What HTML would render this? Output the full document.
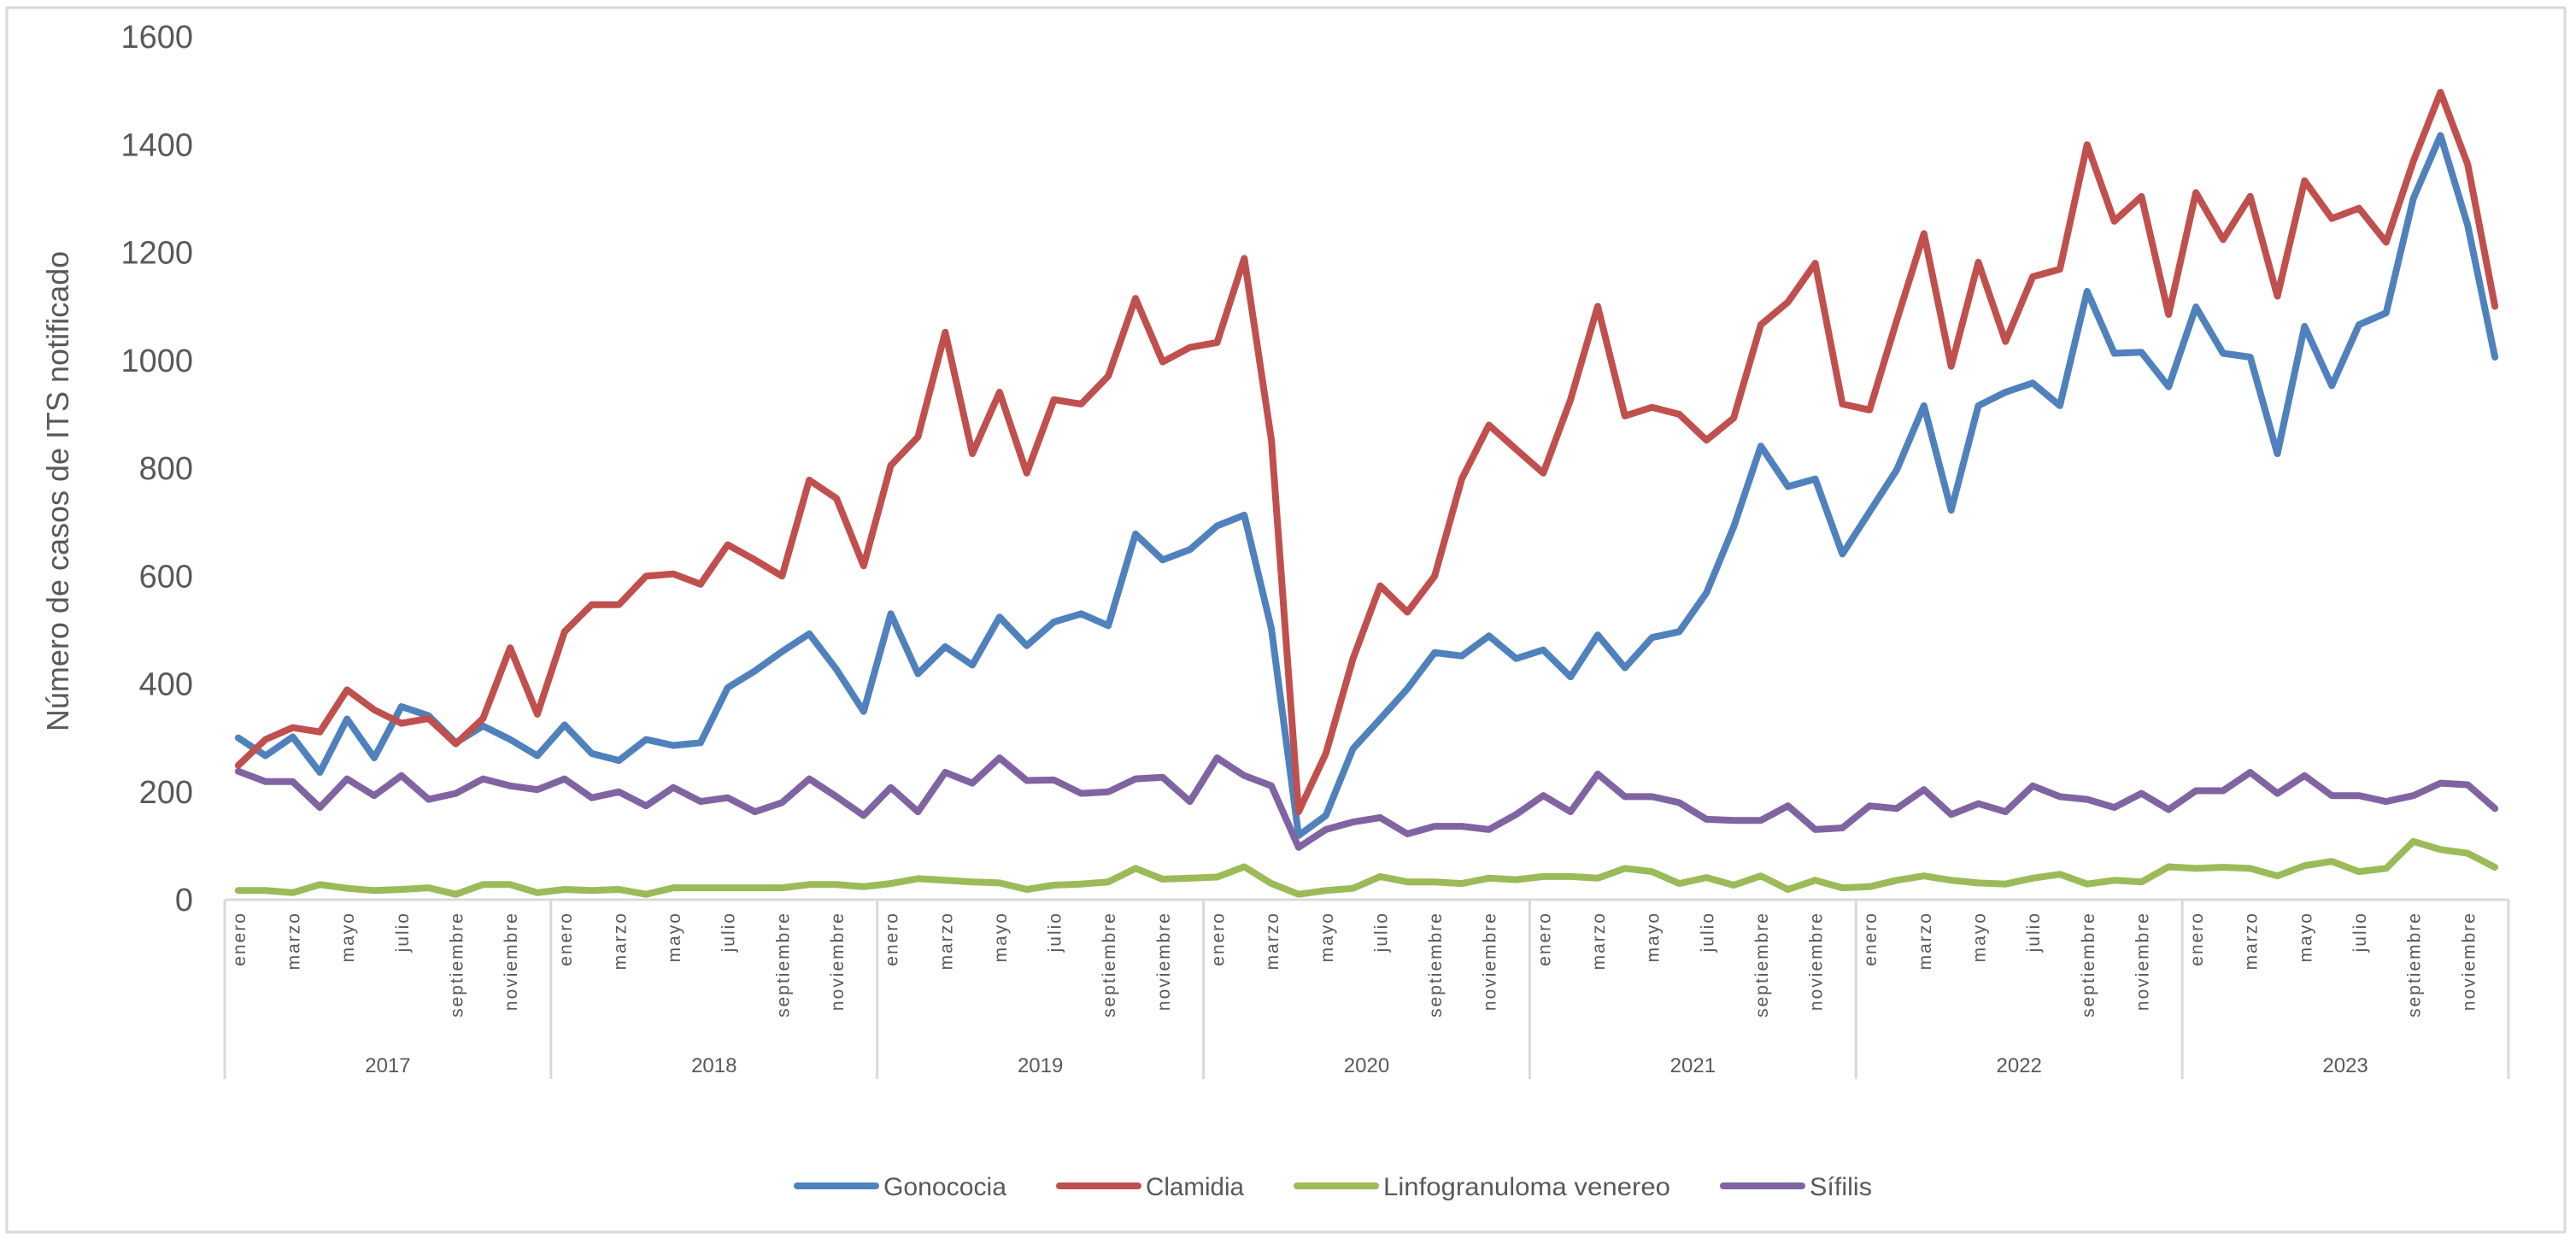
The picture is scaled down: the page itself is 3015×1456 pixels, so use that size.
<!DOCTYPE html>
<html><head><meta charset="utf-8"><style>
html,body{margin:0;padding:0;background:#fff;}
svg{display:block;font-family:"Liberation Sans",sans-serif;}
</style></head><body>
<svg id="chart" width="3015" height="1456" viewBox="0 0 3015 1456">
<rect x="8" y="9" width="2994" height="1433" fill="#fff" stroke="#d9d9d9" stroke-width="3"/>
<text x="80" y="575" transform="rotate(-90 80 575)" text-anchor="middle" font-size="36" fill="#595959">Número de casos de ITS notificado</text>
<g id="yticks"></g><g id="xaxis"></g><g id="series"></g><g id="legend"></g>
</svg>
<script>
const years = ['2017','2018','2019','2020','2021','2022','2023'];
const months = ['enero','febrero','marzo','abril','mayo','junio','julio','agosto','septiembre','octubre','noviembre','diciembre'];
const yTicks = [0,200,400,600,800,1000,1200,1400,1600];
const gonococia = [300,267,302,236,335,263,358,341,291,322,297,267, 324,271,258,297,286,291,393,424,460,493,427,349, 530,419,469,435,524,471,515,530,508,678,630,649, 693,713,502,119,156,280,335,391,458,452,489,447, 463,413,491,430,486,497,569,691,841,766,780,641, 719,797,916,722,916,941,958,916,1128,1013,1015,951, 1099,1013,1006,827,1063,953,1066,1088,1300,1417,1250,1006];
const clamidia = [249,297,319,311,389,352,327,336,289,336,467,344, 497,547,547,600,604,585,658,630,600,778,744,619, 805,858,1052,827,941,791,927,919,971,1115,997,1024, 1033,1189,852,163,271,447,582,533,600,780,880,835, 791,927,1100,897,913,900,852,893,1066,1108,1180,919, 908,1074,1235,989,1182,1035,1155,1169,1400,1258,1304,1085, 1311,1224,1304,1119,1333,1263,1282,1219,1369,1497,1363,1100];
const linfogranuloma = [17,17,13,28,21,17,19,22,10,28,28,13, 19,17,19,10,22,22,22,22,22,28,28,24, 30,39,36,33,31,19,27,29,33,58,38,40, 42,61,30,10,17,21,43,33,33,30,40,37, 43,43,40,58,52,30,41,27,44,19,36,22, 24,36,44,36,31,29,40,47,29,36,33,61, 58,60,58,44,63,71,52,58,108,93,86,60];
const sifilis = [238,219,219,171,224,193,230,186,197,224,211,204, 224,189,200,174,208,182,189,163,180,224,191,156, 208,163,236,216,263,221,222,197,200,224,227,182, 263,230,211,97,130,144,152,122,136,136,130,158, 193,163,233,191,191,180,149,147,147,174,130,133, 174,169,204,158,178,163,211,191,186,171,197,167, 202,202,236,197,230,193,193,182,193,216,213,169];
const seriesNames = ['Gonococia','Clamidia','Linfogranuloma venereo','Sífilis'];
const seriesColors = ['#4f81bd','#c0504d','#9bbb59','#8064a2'];

const NS='http://www.w3.org/2000/svg';
const X0=263, X1=2936, Y0=1053, Y1=43, N=84, CW=(X1-X0)/N;
function xPos(i){return X0+CW*(i+0.5);}
function yPos(v){return Y0-(v/1600)*(Y0-Y1);}
function mk(tag,attrs,parent){const e=document.createElementNS(NS,tag);for(const k in attrs)e.setAttribute(k,attrs[k]);parent.appendChild(e);return e;}

const yt=document.getElementById('yticks');
yTicks.forEach(v=>{
  const t=mk('text',{x:226,y:yPos(v)+13,'text-anchor':'end','font-size':38,fill:'#595959'},yt);
  t.textContent=v;
  
  
});

const xa=document.getElementById('xaxis');
const axl=mk('line',{x1:X0,y1:Y0,x2:X1,y2:Y0,stroke:'#d9d9d9','stroke-width':3},xa);


for(let k=0;k<=years.length;k++){
  const x=X0+CW*12*k;
  const l=mk('line',{x1:x,y1:Y0,x2:x,y2:1263,stroke:'#d9d9d9','stroke-width':3},xa);
  
  
}
years.forEach((yr,k)=>{
  const t=mk('text',{x:X0+CW*12*(k+0.5),y:1255,'text-anchor':'middle','font-size':24,fill:'#595959'},xa);
  t.textContent=yr;
  
  
  for(let m=0;m<12;m+=2){
    const x=xPos(k*12+m)+8, y=1067;
    const ml=mk('text',{x:x,y:y,'text-anchor':'end','font-size':21,fill:'#595959','letter-spacing':2,transform:`rotate(-90 ${x} ${y})`},xa);
    ml.textContent=months[m];
    
    
  }
});

const sg=document.getElementById('series');
[gonococia,clamidia,linfogranuloma,sifilis].forEach((arr,s)=>{
  const d=arr.map((v,i)=>(i?'L':'M')+xPos(i).toFixed(1)+','+yPos(v).toFixed(1)).join(' ');
  const p=mk('path',{d:d,fill:'none',stroke:seriesColors[s],'stroke-width':8,'stroke-linejoin':'round','stroke-linecap':'round'},sg);
  
  
});

const lg=document.getElementById('legend');
const lx=[929,1236,1514,2013];
const lw=[144,115,336,73];
seriesNames.forEach((n,s)=>{
  const g=mk('g',{},lg);
  
  
  mk('line',{x1:lx[s]+4,y1:1388,x2:lx[s]+96,y2:1388,stroke:seriesColors[s],'stroke-width':8,'stroke-linecap':'round'},g);
  const t=mk('text',{x:lx[s]+105,y:1399,'font-size':30,fill:'#595959',textLength:lw[s],lengthAdjust:'spacingAndGlyphs'},g);
  t.textContent=n;
});
</script>
</body></html>
